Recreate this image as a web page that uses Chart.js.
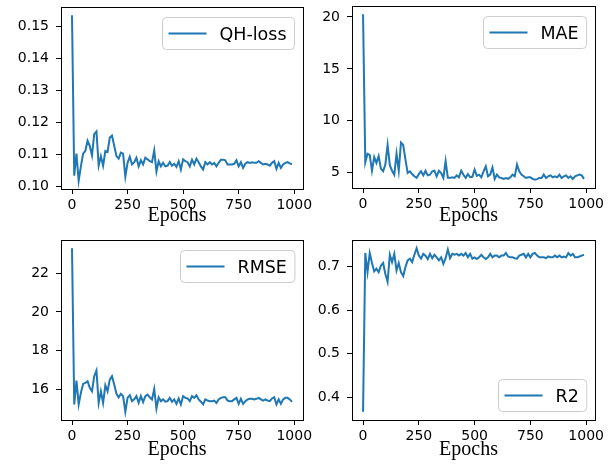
<!DOCTYPE html>
<html>
<head>
<meta charset="utf-8">
<script src="https://cdn.jsdelivr.net/npm/chart.js@4.4.0/dist/chart.umd.min.js"></script>
<style>
  body { margin: 0; background: #fff; }
  #wrap { position: relative; width: 612px; height: 468px; }
  canvas { position: absolute; }
</style>
</head>
<body>
<div id="wrap">
  <canvas id="c1" width="320" height="234" style="left:0;top:0"></canvas>
  <canvas id="c2" width="306" height="234" style="left:306px;top:0"></canvas>
  <canvas id="c3" width="320" height="234" style="left:0;top:234px"></canvas>
  <canvas id="c4" width="306" height="234" style="left:306px;top:234px"></canvas>
</div>
<script>
// epochs (every 10th epoch logged)
var epochs = [0,10,20,30,40,50,60,70,80,90,100,110,120,130,140,150,160,170,180,190,
  200,210,220,230,240,250,260,270,280,290,300,310,320,330,340,350,360,370,380,390,
  400,410,420,430,440,450,460,470,480,490,500,510,520,530,540,550,560,570,580,590,
  600,610,620,630,640,650,660,670,680,690,700,710,720,730,740,750,760,770,780,790,
  800,810,820,830,840,850,860,870,880,890,900,910,920,930,940,950,960,970,980,990];

var qhLoss = [0.1535,0.1033,0.1102,0.1017,0.1062,0.1102,0.1110,0.1142,0.1126,0.1096,
  0.1163,0.1171,0.1064,0.1094,0.1064,0.1110,0.1107,0.1152,0.1158,0.1126,
  0.1094,0.1086,0.1105,0.1102,0.1030,0.1073,0.1092,0.1068,0.1075,0.1089,
  0.1062,0.1081,0.1068,0.1089,0.1084,0.1078,0.1075,0.1112,0.1046,0.1078,
  0.1062,0.1073,0.1062,0.1064,0.1076,0.1064,0.1070,0.1060,0.1078,0.1052,
  0.1084,0.1078,0.1075,0.1062,0.1083,0.1068,0.1086,0.1075,0.1062,0.1052,
  0.1075,0.1068,0.1075,0.1068,0.1073,0.1062,0.1073,0.1083,0.1083,0.1081,
  0.1068,0.1068,0.1068,0.1070,0.1081,0.1062,0.1075,0.1057,0.1070,0.1075,
  0.1073,0.1075,0.1073,0.1073,0.1078,0.1073,0.1068,0.1070,0.1068,0.1064,
  0.1073,0.1078,0.1054,0.1073,0.1057,0.1068,0.1073,0.1075,0.1071,0.1068];

var mae = [20.26,6.0,6.82,6.69,5.19,6.5,5.94,6.6,5.39,5.13,
  5.78,7.66,5.72,5.19,4.8,6.82,5.19,7.89,7.66,6.26,
  4.97,5.13,4.87,4.65,4.5,4.87,5.13,4.74,5.19,4.74,
  4.8,5.13,5.19,4.65,5.19,4.97,4.5,6.11,4.5,4.5,
  4.56,4.5,4.74,4.56,5.19,4.8,4.5,4.87,4.56,4.6,
  5.3,4.7,4.81,4.55,5.13,5.6,4.65,4.81,5.5,4.4,
  4.81,4.55,4.49,4.4,4.49,4.4,4.55,4.81,4.65,5.78,
  5.13,4.81,4.65,4.49,4.55,4.55,4.4,4.32,4.38,4.49,
  4.49,4.81,4.49,4.65,4.74,4.55,4.65,4.55,4.81,4.49,
  4.65,4.74,4.49,4.65,4.4,4.65,4.74,4.81,4.74,4.4];

var rmse = [23.29,15.23,16.46,15.23,15.83,16.29,16.34,16.43,16.09,15.91,
  16.69,16.98,15.31,15.91,15.31,16.22,15.91,16.51,16.69,16.26,
  15.78,15.60,15.78,15.66,14.85,15.57,15.71,15.40,15.49,15.66,
  15.31,15.66,15.35,15.66,15.74,15.60,15.49,16.03,15.02,15.60,
  15.40,15.49,15.37,15.40,15.57,15.37,15.49,15.26,15.54,15.23,
  15.66,15.57,15.54,15.40,15.66,15.57,15.70,15.49,15.37,15.23,
  15.49,15.43,15.40,15.40,15.43,15.31,15.49,15.57,15.60,15.60,
  15.43,15.40,15.40,15.49,15.57,15.26,15.52,15.26,15.40,15.49,
  15.52,15.52,15.49,15.52,15.57,15.49,15.43,15.49,15.43,15.40,
  15.54,15.60,15.23,15.49,15.26,15.49,15.57,15.57,15.49,15.37];

var r2 = [0.367,0.731,0.687,0.731,0.708,0.689,0.695,0.687,0.702,0.708,
  0.683,0.665,0.727,0.710,0.729,0.691,0.708,0.687,0.678,0.699,
  0.714,0.718,0.710,0.727,0.742,0.725,0.718,0.729,0.725,0.717,
  0.729,0.719,0.727,0.721,0.714,0.721,0.706,0.719,0.739,0.719,
  0.729,0.727,0.729,0.725,0.729,0.725,0.731,0.721,0.729,0.718,
  0.721,0.717,0.721,0.727,0.721,0.717,0.721,0.729,0.721,0.725,
  0.725,0.721,0.725,0.725,0.731,0.723,0.721,0.721,0.719,0.718,
  0.725,0.727,0.729,0.721,0.729,0.721,0.729,0.731,0.725,0.721,
  0.721,0.721,0.719,0.723,0.721,0.721,0.725,0.721,0.725,0.721,
  0.723,0.721,0.731,0.725,0.729,0.721,0.721,0.723,0.725,0.727];

var xTicks = [0, 250, 500, 750, 1000];
var qhTicks = [0.10, 0.11, 0.12, 0.13, 0.14, 0.15];
var qhLabels = ['0.10', '0.11', '0.12', '0.13', '0.14', '0.15'];
var maeTicks = [5, 10, 15, 20];
var maeLabels = ['5', '10', '15', '20'];
var rmseTicks = [16, 18, 20, 22];
var rmseLabels = ['16', '18', '20', '22'];
var r2Ticks = [0.4, 0.5, 0.6, 0.7];
var r2Labels = ['0.4', '0.5', '0.6', '0.7'];

var blue = '#1f77b4';
var tickFont = {family: '"DejaVu Sans"', size: 14};

// axes frame on all four sides
var frame = {
  id: 'frame',
  afterDraw: function(chart) {
    var a = chart.chartArea, ctx = chart.ctx;
    ctx.save();
    ctx.strokeStyle = '#000';
    ctx.lineWidth = 1;
    ctx.strokeRect(Math.round(a.left) + 0.5, Math.round(a.top) + 0.5,
      Math.round(a.right - a.left), Math.round(a.bottom - a.top));
    ctx.restore();
  }
};

// matplotlib-like legend box inside the axes
var boxLegend = {
  id: 'boxLegend',
  afterDatasetsDraw: function(chart, args, opts) {
    var a = chart.chartArea, ctx = chart.ctx;
    var label = chart.data.datasets[0].label;
    ctx.save();
    ctx.font = '17.5px "DejaVu Sans"';
    var tw = ctx.measureText(label).width;
    var w = 6 + 38 + 13 + tw + 8, h = 32;
    var x = Math.round(a.right - 8.5 - w) + 0.5;
    var y = opts.corner === 'bottom' ? Math.round(a.bottom - 9 - h) + 0.5 : Math.round(a.top + 10) + 0.5;
    ctx.beginPath();
    ctx.roundRect(x, y, w, h, 4);
    ctx.fillStyle = 'rgba(255,255,255,0.8)';
    ctx.fill();
    ctx.strokeStyle = '#cccccc';
    ctx.lineWidth = 1;
    ctx.stroke();
    var cy = y + h / 2;
    ctx.beginPath();
    ctx.moveTo(x + 6, cy);
    ctx.lineTo(x + 44, cy);
    ctx.strokeStyle = blue;
    ctx.lineWidth = 2;
    ctx.stroke();
    ctx.fillStyle = '#000';
    ctx.textBaseline = 'alphabetic';
    ctx.fillText(label, x + 57, cy + 6.4);
    ctx.restore();
  }
};

// the xlabel sits a few px left of the axes centre in the original
function nudgeTitle(s) {
  if (s._nudged) return;
  var orig = s.drawTitle;
  s.drawTitle = function() {
    this.ctx.save();
    this.ctx.translate(-5, 0);
    orig.apply(this, arguments);
    this.ctx.restore();
  };
  s._nudged = true;
}

function makeChart(id, label, values, yTicks, yLabels, lay, corner) {
  var lo = Math.min.apply(null, values), hi = Math.max.apply(null, values);
  var m = (hi - lo) * 0.05;
  var pts = epochs.map(function(e, i) { return {x: e, y: values[i]}; });
  return new Chart(document.getElementById(id), {
    type: 'line',
    data: {
      datasets: [{
        label: label,
        data: pts,
        borderColor: blue,
        borderWidth: 2,
        pointRadius: 0,
        tension: 0,
        fill: false
      }]
    },
    options: {
      responsive: false,
      animation: false,
      layout: {padding: {left: 0, right: lay.padR, top: lay.padT, bottom: 0}},
      plugins: {legend: {display: false}, tooltip: {enabled: false}, boxLegend: {corner: corner}},
      scales: {
        x: {
          type: 'linear',
          min: -49.5,
          max: 1039.5,
          afterBuildTicks: function(s) { s.ticks = xTicks.map(function(v) { return {value: v}; }); },
          afterFit: function(s) { s.height = lay.xH; s.paddingLeft = 0; s.paddingRight = 0; nudgeTitle(s); },
          grid: {drawOnChartArea: false, drawTicks: true, tickLength: 5, tickColor: '#000', tickWidth: 1},
          border: {display: false},
          ticks: {font: tickFont, color: '#000', padding: 3, maxRotation: 0, autoSkip: false,
            callback: function(v) { return String(v); }},
          title: {display: true, text: 'Epochs', color: '#000',
            font: {family: '"Liberation Serif"', size: 20, lineHeight: 1.2},
            padding: {top: 0, bottom: 6}}
        },
        y: {
          type: 'linear',
          min: lo - m,
          max: hi + m,
          afterBuildTicks: function(s) { s.ticks = yTicks.map(function(v) { return {value: v}; }); },
          afterFit: function(s) { s.width = lay.yW; s.paddingTop = 0; s.paddingBottom = 0; },
          grid: {drawOnChartArea: false, drawTicks: true, tickLength: 5, tickColor: '#000', tickWidth: 1},
          border: {display: false},
          ticks: {font: tickFont, color: '#000', padding: 7, autoSkip: false,
            callback: function(v, i) { return yLabels[i]; }}
        }
      }
    },
    plugins: [frame, boxLegend]
  });
}

makeChart('c1', 'QH-loss', qhLoss, qhTicks, qhLabels, {padR: 17, padT: 7, yW: 61, xH: 45}, 'top');
makeChart('c2', 'MAE', mae, maeTicks, maeLabels, {padR: 17, padT: 6, yW: 46, xH: 46}, 'top');
makeChart('c3', 'RMSE', rmse, rmseTicks, rmseLabels, {padR: 17, padT: 6, yW: 61, xH: 48}, 'top');
makeChart('c4', 'R2', r2, r2Ticks, r2Labels, {padR: 17, padT: 6, yW: 46, xH: 48}, 'bottom');
</script>
</body>
</html>
